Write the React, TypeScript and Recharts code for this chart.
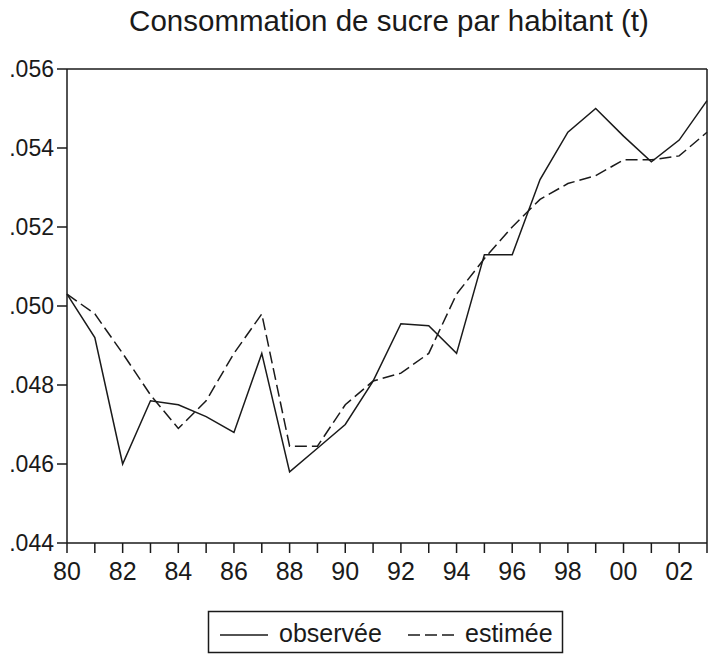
import { LineChart, Line, XAxis, YAxis, ReferenceLine } from 'recharts'

const years = [
  1980, 1981, 1982, 1983, 1984, 1985, 1986, 1987, 1988, 1989, 1990, 1991,
  1992, 1993, 1994, 1995, 1996, 1997, 1998, 1999, 2000, 2001, 2002, 2003,
]
const observee = [
  0.0503, 0.0492, 0.0460, 0.0476, 0.0475, 0.0472, 0.0468, 0.0488, 0.0458, 0.0464, 0.0470, 0.0481,
  0.04955, 0.0495, 0.0488, 0.0513, 0.0513, 0.0532, 0.0544, 0.0550, 0.0543, 0.05365, 0.0542, 0.0552,
]
const estimee = [
  0.0503, 0.0498, 0.0488, 0.04775, 0.0469, 0.0476, 0.0488, 0.0498, 0.04645, 0.04645, 0.0475, 0.0481,
  0.0483, 0.0488, 0.0503, 0.0512, 0.0520, 0.0527, 0.0531, 0.0533, 0.0537, 0.0537, 0.0538, 0.0544,
]
const yTicks = [0.044, 0.046, 0.048, 0.05, 0.052, 0.054, 0.056]

const title = 'Consommation de sucre par habitant (t)'
const seriesNames = ['observée', 'estimée']

const data = years.map((year, i) => ({ year, observee: observee[i], estimee: estimee[i] }))

const font = '"Liberation Sans", Arial, sans-serif'
const ink = '#1a1a1a'

const fmtY = (v: number) => v.toFixed(3).replace(/^0/, '')
const fmtX = (v: number) => (v % 2 === 0 ? String(v % 100).padStart(2, '0') : '')

export default function App() {
  return (
    <div style={{ position: 'absolute', left: 0, top: 0, width: 709, height: 657, background: '#fff' }}>
      <LineChart width={709} height={657} data={data} margin={{ top: 69, right: 2, left: 0, bottom: 84 }}>
        <XAxis
          dataKey="year"
          type="number"
          domain={[1980, 2003]}
          ticks={years}
          tickFormatter={fmtX}
          interval={0}
          height={30}
          tickSize={10}
          tickMargin={9}
          stroke={ink}
          strokeWidth={1.5}
          tick={{ fill: ink, fontSize: 25, fontFamily: font }}
        />
        <YAxis
          type="number"
          domain={[0.044, 0.056]}
          ticks={yTicks}
          tickFormatter={fmtY}
          width={67}
          tickSize={10}
          tickMargin={3}
          stroke={ink}
          strokeWidth={1.5}
          tick={{ fill: ink, fontSize: 23, fontFamily: font }}
        />
        <ReferenceLine y={0.056} stroke={ink} strokeWidth={1.5} />
        <ReferenceLine x={2003} stroke={ink} strokeWidth={1.5} />
        <Line
          dataKey="observee"
          stroke={ink}
          strokeWidth={1.5}
          dot={false}
          isAnimationActive={false}
        />
        <Line
          dataKey="estimee"
          stroke={ink}
          strokeWidth={1.5}
          strokeDasharray="12 5"
          dot={false}
          isAnimationActive={false}
        />
      </LineChart>
      <svg width={709} height={657} style={{ position: 'absolute', left: 0, top: 0, pointerEvents: 'none' }}>
        <text x={389} y={31} textAnchor="middle" fontSize={29.5} fontFamily={font} fill={ink}>
          {title}
        </text>
        <rect x={208.5} y={611.5} width={354} height={41} fill="none" stroke={ink} strokeWidth={1.5} />
        <line x1={220} y1={635} x2={268} y2={635} stroke={ink} strokeWidth={1.5} />
        <text x={279} y={642} fontSize={25} fontFamily={font} fill={ink}>
          {seriesNames[0]}
        </text>
        <line x1={408} y1={635} x2={455} y2={635} stroke={ink} strokeWidth={1.5} strokeDasharray="12 5" />
        <text x={465} y={642} fontSize={25} fontFamily={font} fill={ink}>
          {seriesNames[1]}
        </text>
      </svg>
    </div>
  )
}
